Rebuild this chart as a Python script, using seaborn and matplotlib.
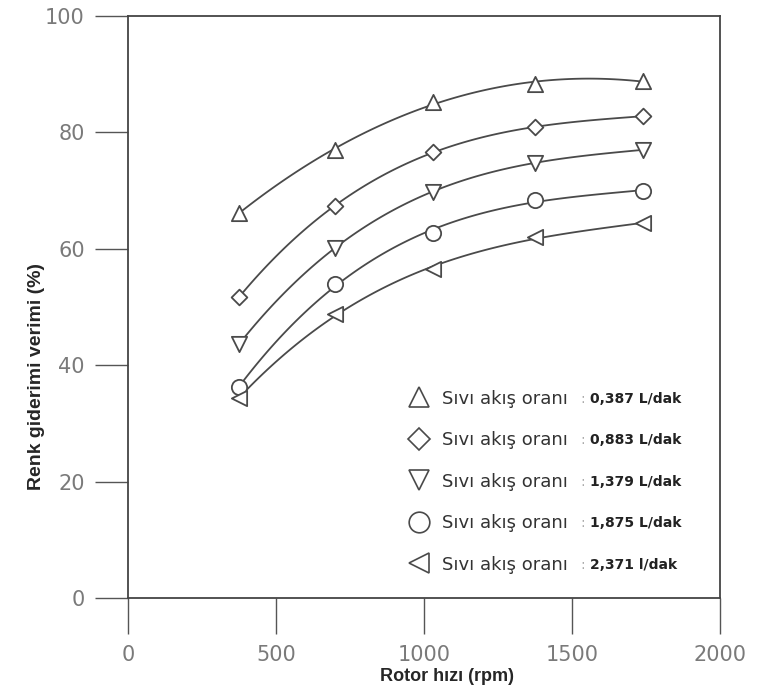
import matplotlib
matplotlib.use('Agg')
import matplotlib.pyplot as plt
from matplotlib.lines import Line2D
import seaborn as sns

# values
rpm = [375, 700, 1030, 1375, 1740]
eff_0387 = [66.2, 76.9, 85.3, 88.4, 88.8]
eff_0883 = [51.7, 67.4, 76.6, 80.9, 82.8]
eff_1379 = [43.6, 60.2, 69.8, 74.8, 77.0]
eff_1875 = [36.2, 54.0, 62.7, 68.4, 70.0]
eff_2371 = [34.3, 48.8, 56.5, 62.0, 64.4]

series = [eff_0387, eff_0883, eff_1379, eff_1875, eff_2371]
markers = ['^', 'D', 'v', 'o', '<']
marker_sizes = [11, 8, 11, 11, 11]
flow_labels = ['0,387 L/dak', '0,883 L/dak', '1,379 L/dak', '1,875 L/dak', '2,371 l/dak']
xticks = [0, 500, 1000, 1500, 2000]
yticks = [0, 20, 40, 60, 80, 100]

sns.set_style('ticks')
plt.rcParams['font.family'] = ['DejaVu Sans']

line_col = '#4a4a4a'

fig = plt.figure(figsize=(7.57, 6.97), dpi=100)
ax = fig.add_axes([0.169, 0.142, 0.782, 0.835])

for vals, m, ms in zip(series, markers, marker_sizes):
    # smooth trend line through the points, like the original
    sns.regplot(x=rpm, y=vals, order=3, ci=None, scatter=False, ax=ax,
                line_kws=dict(color=line_col, lw=1.3, zorder=2))
    sns.scatterplot(x=rpm, y=vals, marker=m, s=ms ** 2, ax=ax,
                    facecolor='white', edgecolor=line_col, linewidth=1.3, zorder=3)

ax.set_xlim(0, 2000)
ax.set_ylim(0, 100)
ax.set_xticks(xticks)
ax.set_yticks(yticks)

for sp in ax.spines.values():
    sp.set_visible(True)
    sp.set_color('#444444')
    sp.set_linewidth(1.3)

ax.tick_params(axis='y', direction='out', length=24, width=1, pad=7,
               labelsize=15, labelcolor='#7a7a7a', color='#555555')
ax.tick_params(axis='x', direction='out', length=26, width=1, pad=8,
               labelsize=15, labelcolor='#7a7a7a', color='#555555')

ax.set_xlabel('Rotor hızı (rpm)', fontsize=13, fontweight='bold',
              family=['Liberation Sans', 'DejaVu Sans'])
ax.set_ylabel('Renk giderimi verimi (%)', fontsize=14, fontweight='bold',
              family=['Liberation Sans', 'DejaVu Sans'])
ax.xaxis.set_label_coords(0.539, -0.12)
ax.yaxis.set_label_coords(-0.14, 0.38)

# legend: marker + text, flow value added next to each label
handles = [Line2D([], [], marker=m, ls='none', mfc='white', mec=line_col,
                  mew=1.2, ms=ms * 1.35) for m, ms in zip(markers, marker_sizes)]
leg = ax.legend(handles, ['Sıvı akış oranı'] * 5, loc='upper left',
                bbox_to_anchor=(0.468, 0.358), borderaxespad=0, borderpad=0,
                frameon=False, fontsize=13, handlelength=1.5, handletextpad=0.55,
                labelspacing=1.3)
for txt in leg.get_texts():
    txt.set_color('#333333')

# place the flow values after the legend has been laid out
fig.canvas.draw()
inv = ax.transAxes.inverted()
for txt, lab in zip(leg.get_texts(), flow_labels):
    bb = txt.get_window_extent()
    x1, yc = inv.transform((bb.x1, (bb.y0 + bb.y1) / 2))
    ax.annotate(':', xy=(x1, yc), xycoords='axes fraction', xytext=(9, 0),
                textcoords='offset points', va='center', ha='left',
                fontsize=10, color='#aaaaaa')
    ax.annotate(lab, xy=(x1, yc), xycoords='axes fraction', xytext=(16, 0),
                textcoords='offset points', va='center', ha='left',
                fontsize=10, fontweight='bold', color='#222222')

fig.savefig('out.png', dpi=100)
